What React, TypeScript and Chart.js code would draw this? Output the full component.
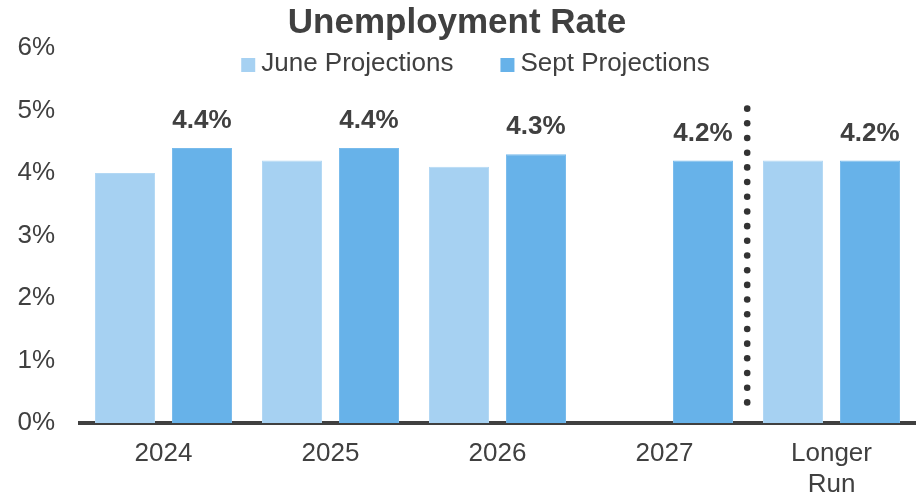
import React, { useEffect, useRef } from 'react';
import { Chart, registerables } from 'chart.js';

Chart.register(...registerables);

const chartTitle = 'Unemployment Rate';
const categories: (string | string[])[] = ['2024', '2025', '2026', '2027', ['Longer', 'Run']];
const seriesNames = ['June Projections', 'Sept Projections'];
const juneValues: (number | null)[] = [4.0, 4.2, 4.1, null, 4.2];
const septValues: number[] = [4.4, 4.4, 4.3, 4.2, 4.2];
const yTickValues = [0, 1, 2, 3, 4, 5, 6];
const labelledSeries = 1; // value labels shown on Sept bars
const dividerAfterIndex = 3; // dotted line between 2027 and Longer Run
const dividerRange = [0.33, 5.03]; // in % (value space)
const dividerDots = 21;

const FONT = '"Liberation Sans", Arial, sans-serif';
const TEXT = '#404040';
const JUNE_COLOR = '#A6D1F2';
const SEPT_COLOR = '#67B2E9';
const FS = 26;

const overlayPlugin = {
  id: 'overlay',
  afterDatasetsDraw(chart: any) {
    const { ctx } = chart;
    const x = chart.scales.x;
    const y = chart.scales.y;
    // dotted divider
    const dx = (x.getPixelForValue(dividerAfterIndex) + x.getPixelForValue(dividerAfterIndex + 1)) / 2 - 0.8;
    const yTop = y.getPixelForValue(dividerRange[1]);
    const yBot = y.getPixelForValue(dividerRange[0]);
    ctx.save();
    ctx.fillStyle = '#333333';
    for (let i = 0; i < dividerDots; i++) {
      const py = yTop + ((yBot - yTop) * i) / (dividerDots - 1);
      ctx.beginPath();
      ctx.arc(dx, py, 3.3, 0, Math.PI * 2);
      ctx.fill();
    }
    ctx.restore();

    // value labels
    const meta = chart.getDatasetMeta(labelledSeries);
    const vals = chart.data.datasets[labelledSeries].data;
    ctx.save();
    ctx.font = `bold ${FS}px ${FONT}`;
    ctx.fillStyle = TEXT;
    ctx.textAlign = 'center';
    ctx.textBaseline = 'middle';
    meta.data.forEach((bar: any, i: number) => {
      const v = vals[i];
      if (v == null) return;
      ctx.fillText(`${Number(v).toFixed(1)}%`, bar.x, bar.y - 27);
    });
    ctx.restore();
  },
  afterDraw(chart: any) {
    const { ctx, width } = chart;
    ctx.save();
    // title
    ctx.font = `bold 35px ${FONT}`;
    ctx.fillStyle = TEXT;
    ctx.textAlign = 'center';
    ctx.textBaseline = 'middle';
    ctx.fillText(chartTitle, width / 2 - 3.5, 23);

    // legend
    ctx.font = `${FS}px ${FONT}`;
    const box = 14;
    const gapBoxText = 6;
    const gapItems = 47;
    const ds = chart.data.datasets;
    const widths = ds.map((d: any) => box + gapBoxText + ctx.measureText(d.label).width);
    const total = widths.reduce((a: number, b: number) => a + b, 0) + gapItems * (ds.length - 1);
    let cx = width / 2 + 15 - total / 2;
    ctx.textAlign = 'left';
    ds.forEach((d: any, i: number) => {
      ctx.fillStyle = d.backgroundColor;
      ctx.fillRect(cx, 58, box, box);
      ctx.fillStyle = TEXT;
      ctx.fillText(d.label, cx + box + gapBoxText, 64);
      cx += widths[i] + gapItems;
    });
    ctx.restore();
  },
};

export default function App() {
  const canvasRef = useRef<HTMLCanvasElement | null>(null);

  useEffect(() => {
    if (!canvasRef.current) return;
    const chart = new Chart(canvasRef.current, {
      type: 'bar',
      data: {
        labels: categories as any,
        datasets: [
          {
            label: seriesNames[0],
            data: juneValues,
            backgroundColor: JUNE_COLOR,
            borderColor: '#B3D8F4',
            borderWidth: 1,
          },
          {
            label: seriesNames[1],
            data: septValues,
            backgroundColor: SEPT_COLOR,
            borderColor: '#78BBEC',
            borderWidth: 1,
          },
        ],
      },
      options: {
        animation: false,
        responsive: true,
        maintainAspectRatio: false,
        devicePixelRatio: 1,
        layout: { padding: { top: 48, right: 6, left: 0, bottom: 0 } },
        datasets: {
          bar: { categoryPercentage: 0.922, barPercentage: 0.78 },
        },
        plugins: {
          legend: { display: false },
          title: { display: false },
          tooltip: { enabled: false },
        },
        scales: {
          x: {
            grid: { display: false, drawTicks: false },
            border: { display: true, color: '#404040', width: 4 },
            ticks: {
              color: TEXT,
              font: { family: FONT, size: FS, lineHeight: 1.2 },
              padding: 15,
              maxRotation: 0,
              autoSkip: false,
            },
            afterFit(scale: any) {
              scale.height = 76;
            },
          },
          y: {
            min: 0,
            max: 6,
            grid: { display: false, drawTicks: false },
            border: { display: false },
            ticks: {
              color: TEXT,
              font: { family: FONT, size: FS },
              padding: 25,
              callback: (v: any) => `${v}%`,
            },
            afterBuildTicks(scale: any) {
              scale.ticks = yTickValues.map((v) => ({ value: v }));
            },
            afterFit(scale: any) {
              scale.width = 80;
            },
          },
        },
      },
      plugins: [overlayPlugin],
    });
    return () => chart.destroy();
  }, []);

  return (
    <div style={{ position: 'absolute', left: 0, top: 0, width: 921, height: 499 }}>
      <canvas ref={canvasRef} />
    </div>
  );
}
